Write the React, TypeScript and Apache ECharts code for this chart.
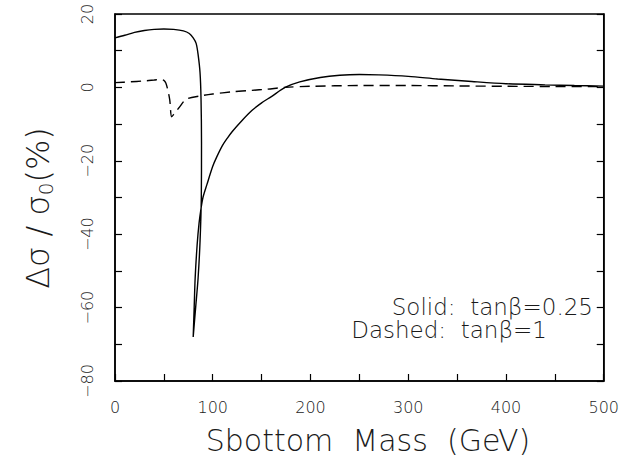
import React, { useEffect, useRef } from "react";
import * as echarts from "echarts";

// Solid: tanβ = 0.25  (x = sbottom mass in GeV, y = Δσ/σ0 in %)
const solidMass = [0, 10, 20, 30, 40, 50, 60, 70, 76, 80, 83, 85, 87, 88, 88.5, 88.3, 87, 85, 82.5, 80, 81, 82, 84, 86, 88, 90, 94, 100, 104, 110, 115, 120, 130, 140, 150, 160, 174, 189, 210, 230, 250, 270, 300, 330, 365, 400, 440, 470, 500];
const solidValue = [13.5, 14.2, 15, 15.5, 15.8, 15.9, 15.8, 15.4, 14.7, 13.5, 12, 9, 4, -3, -15, -30, -42, -52, -60, -68, -60, -52, -43, -37, -33, -30, -26.5, -21.5, -19, -15.8, -13.8, -12, -9, -6.3, -4.2, -2.5, 0, 1.5, 2.7, 3.3, 3.5, 3.4, 3.0, 2.3, 1.6, 1.0, 0.7, 0.5, 0.35];

// Dashed: tanβ = 1
const dashedMass = [0, 15, 29, 40, 46, 50, 52, 54, 56, 58, 61, 65, 73, 88, 100, 120, 140, 155, 174, 200, 250, 300, 350, 400, 450, 500];
const dashedValue = [1.3, 1.5, 1.75, 2.0, 2.2, 1.9, 1.2, -0.7, -3.4, -8, -7, -5.7, -3.2, -2.3, -1.8, -1.2, -0.8, -0.5, 0, 0.3, 0.5, 0.5, 0.4, 0.3, 0.25, 0.2];

const xTicks = [0, 100, 200, 300, 400, 500];
const yTicks = [-80, -60, -40, -20, 0, 20];

const legendLines = ["Solid:  tanβ=0.25", "Dashed:  tanβ=1"];

const FONT = "DejaVu Sans";
const INK = "#1a1a1a";

const fmt = (v: number) => (v < 0 ? "\u2212" + Math.abs(v) : String(v));

export default function App() {
  const ref = useRef<HTMLDivElement>(null);
  useEffect(() => {
    if (!ref.current) return;
    const chart = echarts.init(ref.current, undefined, { renderer: "svg" });
    const solid = solidMass.map((m, i) => [m, solidValue[i]]);
    const dashed = dashedMass.map((m, i) => [m, dashedValue[i]]);
    const tick = { show: true, inside: true, length: 7, lineStyle: { color: "#000", width: 1.2 } };
    const light = { fontFamily: FONT, fontWeight: 200, fill: INK };
    chart.setOption({
      animation: false,
      backgroundColor: "#ffffff",
      grid: {
        left: 115,
        top: 14,
        width: 490,
        height: 367,
        show: true,
        borderColor: "#000",
        borderWidth: 1.5,
        backgroundColor: "transparent",
      },
      xAxis: {
        type: "value",
        min: xTicks[0],
        max: xTicks[xTicks.length - 1],
        interval: 50,
        axisLine: { show: true, onZero: false, lineStyle: { color: "#000", width: 1.5 } },
        axisTick: tick,
        splitLine: { show: false },
        axisLabel: {
          margin: 18,
          color: INK,
          fontFamily: FONT,
          fontWeight: 200,
          fontSize: 16,
          formatter: (v: number) => (xTicks.includes(v) ? fmt(v) : ""),
        },
      },
      yAxis: [
        {
          type: "value",
          min: yTicks[0],
          max: yTicks[yTicks.length - 1],
          interval: 10,
          axisLine: { show: true, onZero: false, lineStyle: { color: "#000", width: 1.5 } },
          axisTick: tick,
          splitLine: { show: false },
          axisLabel: {
            rotate: 90,
            margin: 20,
            color: INK,
            fontFamily: FONT,
            fontWeight: 200,
            fontSize: 16,
            formatter: (v: number) => (yTicks.includes(v) ? fmt(v) : ""),
          },
        },
        {
          type: "value",
          position: "right",
          min: yTicks[0],
          max: yTicks[yTicks.length - 1],
          interval: 10,
          axisLine: { show: true, onZero: false, lineStyle: { color: "#000", width: 1.5 } },
          axisTick: tick,
          splitLine: { show: false },
          axisLabel: { show: false },
        },
      ],
      series: [
        {
          type: "line",
          data: solid,
          showSymbol: false,
          smooth: 0.3,
          lineStyle: { color: "#000", width: 1.4 },
          z: 3,
        },
        {
          type: "line",
          data: dashed,
          showSymbol: false,
          smooth: 0.3,
          lineStyle: { color: "#000", width: 1.4, type: [10, 6] },
          z: 2,
        },
      ],
      graphic: [
        {
          type: "text",
          x: 593,
          y: 307,
          style: { ...light, text: legendLines[0], fontSize: 23, align: "right", verticalAlign: "middle" },
        },
        {
          type: "text",
          x: 547,
          y: 330,
          style: { ...light, text: legendLines[1], fontSize: 23, align: "right", verticalAlign: "middle" },
        },
        {
          type: "text",
          x: 368,
          y: 440,
          style: {
            ...light,
            text: "Sbottom  Mass  (GeV)",
            fontSize: 30,
            align: "center",
            verticalAlign: "middle",
          },
        },
        {
          type: "text",
          x: 38,
          y: 208,
          rotation: Math.PI / 2,
          style: {
            text: "{a|Δσ / σ}{s|0}{a|(%)}",
            align: "center",
            verticalAlign: "middle",
            fill: INK,
            rich: {
              a: { fontFamily: FONT, fontWeight: 200, fontSize: 32, fill: INK },
              s: { fontFamily: FONT, fontWeight: 200, fontSize: 20, fill: INK, padding: [15, 0, 0, 0] },
            },
          },
        },
      ],
    });
    return () => chart.dispose();
  }, []);
  return (
    <div
      ref={ref}
      style={{ position: "fixed", left: 0, top: 0, width: 622, height: 475, background: "#fff" }}
    />
  );
}
